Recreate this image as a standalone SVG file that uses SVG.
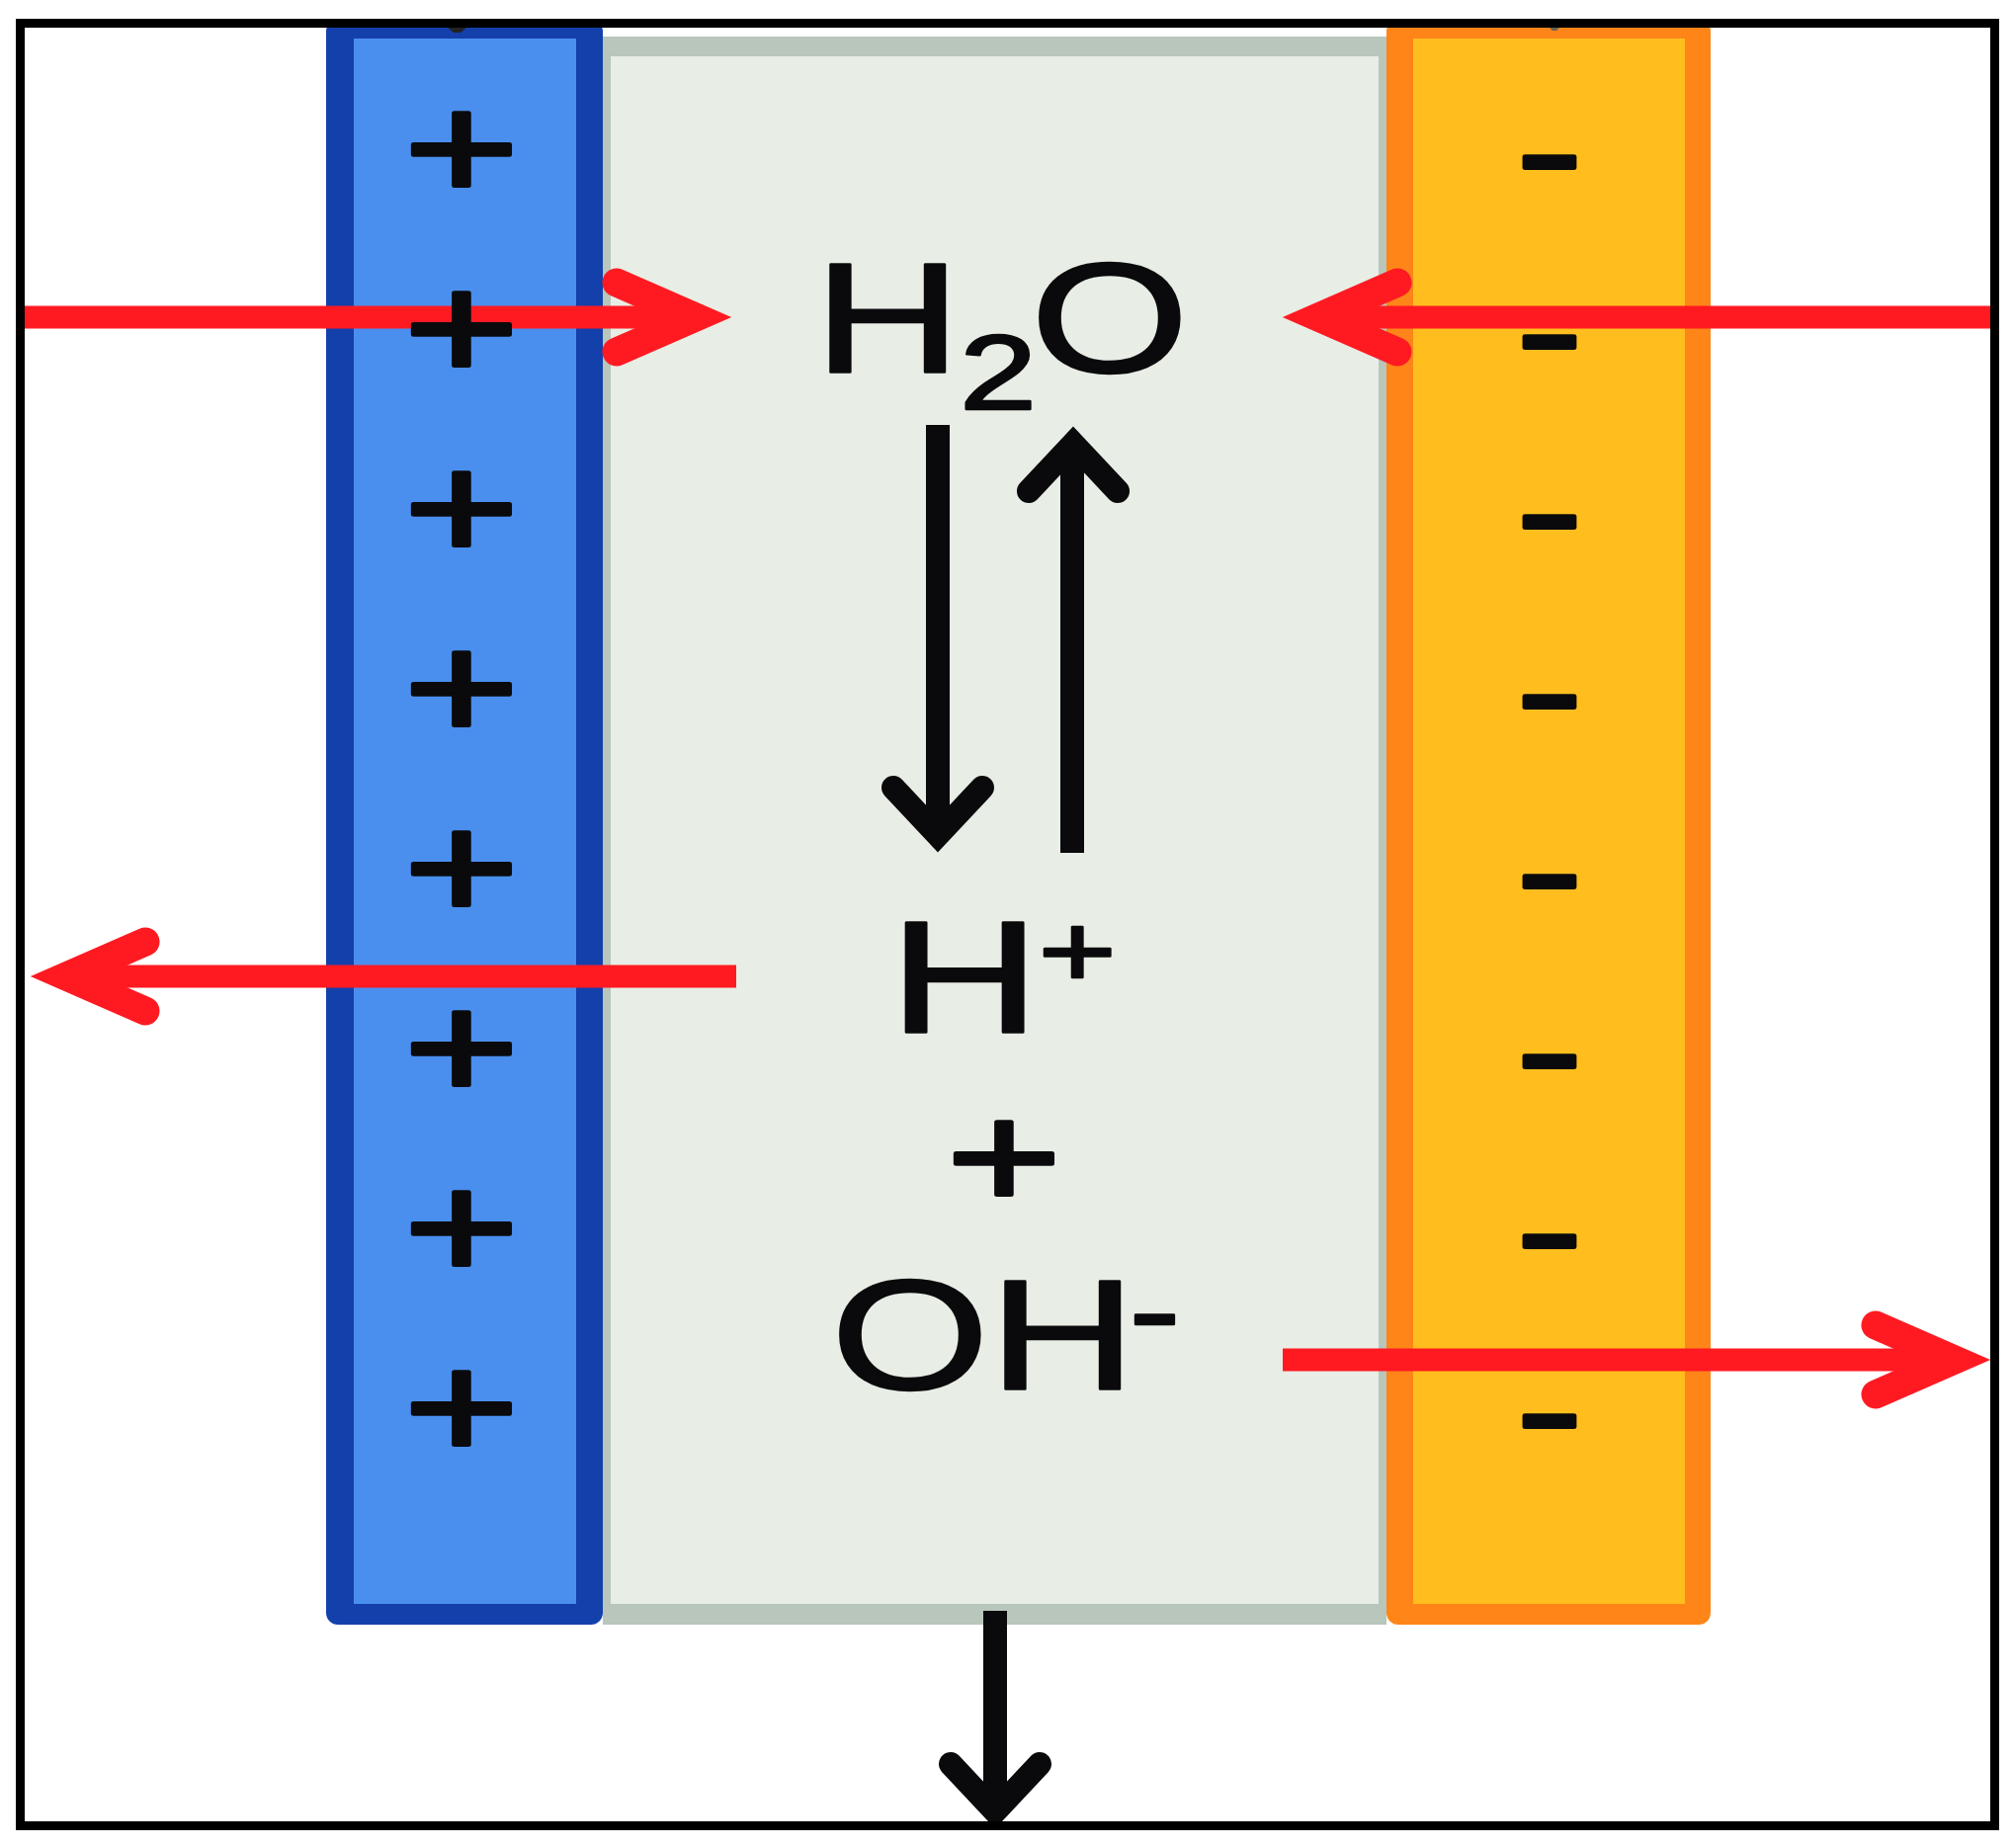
<svg xmlns="http://www.w3.org/2000/svg" xmlns:xlink="http://www.w3.org/1999/xlink" width="2037" height="1870" viewBox="0 0 2037 1870">
<style>
text{font-family:"Liberation Sans",Arial,sans-serif;fill:#0a0a0c;stroke:#0a0a0c;stroke-linejoin:round}
.sign{font-size:150px;text-anchor:middle;stroke-width:4}
.minus{font-size:150px;text-anchor:middle;stroke-width:4}
.chem{font-size:158px;stroke-width:2.5}
.red{stroke:#ff1a22;stroke-width:23;fill:none}
.blk{stroke:#0a0a0c;stroke-width:24;fill:none}
.rh{stroke:#ff1a22;stroke-width:29;fill:none;stroke-linecap:round;stroke-linejoin:miter;stroke-miterlimit:6}
.bh{stroke:#0a0a0c;stroke-width:24;fill:none;stroke-linecap:round;stroke-linejoin:miter;stroke-miterlimit:6}
</style>
<defs>
<path id="redHead" class="rh" d="M-116-35L-36 0L-116 35"/>
<path id="blkHead" class="bh" d="M-45-66L0-18L45-66"/>
</defs>
<rect width="2037" height="1870" fill="#fff"/>
<g id="chamber"><rect x="610" y="37" width="793" height="1607" fill="#b8c6bc"/><rect x="618" y="57" width="777" height="1566" fill="#e8ede5"/></g>
<g id="anode"><rect x="330" y="20" width="280" height="1624" rx="12" fill="#1440ac"/><rect x="358" y="39" width="225" height="1584" fill="#4a8fee"/><path d="M453 28H472L466 33H459Z" fill="#222"/></g>
<g id="cathode"><rect x="1403" y="20" width="328" height="1624" rx="12" fill="#ff8518"/><rect x="1430" y="39" width="275" height="1584" fill="#ffbe1e"/><path d="M1568 28H1578L1575 31H1571Z" fill="#665"/></g>
<g id="connectors">
<path class="red" d="M25 321H700"/><use xlink:href="#redHead" href="#redHead" transform="translate(740 321)"/>
<path class="red" d="M2014 321H1340"/><use xlink:href="#redHead" href="#redHead" transform="translate(1298 321) rotate(180)"/>
<path class="red" d="M745 988H70"/><use xlink:href="#redHead" href="#redHead" transform="translate(31 988) rotate(180)"/>
<path class="red" d="M1298 1376H1970"/><use xlink:href="#redHead" href="#redHead" transform="translate(2014 1376)"/>
<path class="blk" d="M949 430V835"/><use xlink:href="#blkHead" href="#blkHead" transform="translate(949 863)"/>
<path class="blk" d="M1085 863V460"/><use xlink:href="#blkHead" href="#blkHead" transform="translate(1086 431) rotate(180)"/>
<path class="blk" d="M1007 1630V1825"/><use xlink:href="#blkHead" href="#blkHead" transform="translate(1007 1851)"/>
</g>
<g id="anode-charges">
<text class="sign" transform="translate(467 201) scale(1.33 1)">+</text>
<text class="sign" transform="translate(467 383) scale(1.33 1)">+</text>
<text class="sign" transform="translate(467 565) scale(1.33 1)">+</text>
<text class="sign" transform="translate(467 747) scale(1.33 1)">+</text>
<text class="sign" transform="translate(467 929) scale(1.33 1)">+</text>
<text class="sign" transform="translate(467 1111) scale(1.33 1)">+</text>
<text class="sign" transform="translate(467 1293) scale(1.33 1)">+</text>
<text class="sign" transform="translate(467 1475) scale(1.33 1)">+</text>
</g>
<g id="cathode-charges">
<text class="minus" transform="translate(1568 204) scale(1.35 1)">-</text>
<text class="minus" transform="translate(1568 386) scale(1.35 1)">-</text>
<text class="minus" transform="translate(1568 568) scale(1.35 1)">-</text>
<text class="minus" transform="translate(1568 750) scale(1.35 1)">-</text>
<text class="minus" transform="translate(1568 932) scale(1.35 1)">-</text>
<text class="minus" transform="translate(1568 1114) scale(1.35 1)">-</text>
<text class="minus" transform="translate(1568 1296) scale(1.35 1)">-</text>
<text class="minus" transform="translate(1568 1478) scale(1.35 1)">-</text>
</g>
<g id="water"><text class="chem" transform="translate(824 376) scale(1.3 1)">H<tspan x="113" y="38" font-size="108">2</tspan><tspan x="168.5" y="0">O</tspan></text></g>
<g id="proton"><text class="chem" style="font-size:162px" transform="translate(900 1045) scale(1.3 1)">H<tspan x="116" y="-47" font-size="104">+</tspan></text></g>
<g id="plus"><text class="sign" transform="translate(1016 1222) scale(1.33 1)">+</text></g>
<g id="hydroxide"><text class="chem" transform="translate(841 1405) scale(1.3 1)">O<tspan x="123" letter-spacing="-7">H</tspan><tspan x="232" y="-38" font-size="120">-</tspan></text></g>
<rect id="frame" x="20.5" y="23.5" width="1998" height="1824" fill="none" stroke="#000" stroke-width="9"/>
</svg>
